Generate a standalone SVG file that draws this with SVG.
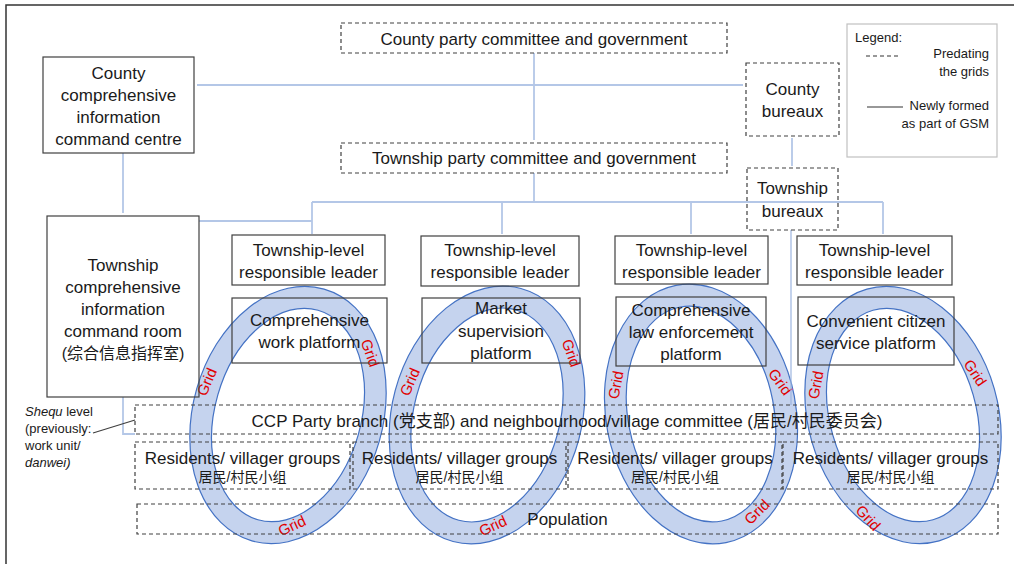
<svg xmlns="http://www.w3.org/2000/svg" width="1014" height="564" viewBox="0 0 1014 564">
<style>
.box{fill:none;stroke:#404040;stroke-width:1.2}
.dash{fill:none;stroke:#404040;stroke-width:1.2;stroke-dasharray:4 3}
.conn{fill:none;stroke:#b4c7e7;stroke-width:1.8}
.t{font-family:"Liberation Sans","Noto Sans CJK SC",sans-serif;font-size:17px;fill:#1a1a1a;text-anchor:middle}
.cjk{font-size:14px}
.lg{font-size:13px}
.st{text-anchor:start}
.en{text-anchor:end}
.grid{font-family:"Liberation Sans",sans-serif;font-size:15px;fill:#e00000;text-anchor:middle}
.ring{fill:#c5d3ee;stroke:#4472c4;stroke-width:1.2;fill-rule:evenodd}
</style>
<defs>
<path id="ringShape" d="M -95 0 A 95 131 0 1 0 95 0 A 95 131 0 1 0 -95 0 Z M -73 0 A 73 109 0 1 0 73 0 A 73 109 0 1 0 -73 0 Z"/>
</defs>
<rect x="0" y="0" width="1014" height="564" fill="#ffffff"/>
<path d="M6 564 V5 H1014" fill="none" stroke="#333" stroke-width="1.5"/>

<g id="grids">
<use href="#ringShape" class="ring" transform="translate(288 415) rotate(16)"/>
<use href="#ringShape" class="ring" transform="translate(487 415) rotate(15)"/>
<use href="#ringShape" class="ring" transform="translate(701 414) rotate(-11)"/>
<use href="#ringShape" class="ring" transform="translate(903 415) rotate(-16)"/>
<text class="grid" transform="translate(207 382) rotate(-67)" dy="5">Grid</text>
<text class="grid" transform="translate(370 353) rotate(70)" dy="5">Grid</text>
<text class="grid" transform="translate(292 526) rotate(-25)" dy="5">Grid</text>
<text class="grid" transform="translate(410 382) rotate(-67)" dy="5">Grid</text>
<text class="grid" transform="translate(571 353) rotate(70)" dy="5">Grid</text>
<text class="grid" transform="translate(493 526) rotate(-25)" dy="5">Grid</text>
<text class="grid" transform="translate(616 385) rotate(-79)" dy="5">Grid</text>
<text class="grid" transform="translate(780 382) rotate(54)" dy="5">Grid</text>
<text class="grid" transform="translate(757 512) rotate(-45)" dy="5">Grid</text>
<text class="grid" transform="translate(816 385) rotate(-79)" dy="5">Grid</text>
<text class="grid" transform="translate(975 373) rotate(56)" dy="5">Grid</text>
<text class="grid" transform="translate(868 518) rotate(47)" dy="5">Grid</text>
</g>

<g id="connectors">
<path class="conn" d="M197 85 H743"/>
<path class="conn" d="M534 53 V140"/>
<path class="conn" d="M792 138 V166"/>
<path class="conn" d="M534 173 V202"/>
<path class="conn" d="M312 202 H883"/>
<path class="conn" d="M312 202 V234"/>
<path class="conn" d="M502 202 V234"/>
<path class="conn" d="M691 202 V234"/>
<path class="conn" d="M883 202 V234"/>
<path class="conn" d="M123 153 V213"/>
<path class="conn" d="M199 221 H312"/>
<path class="conn" d="M123 397 V434 H135"/>
<path d="M791 230 V405" fill="none" stroke="#9db5e0" stroke-width="1.2"/>
<path d="M93 433 L135 420" fill="none" stroke="#404040" stroke-width="1.2"/>
</g>

<g id="county-party">
<rect class="dash" x="341" y="23" width="386" height="30"/>
<text class="t" x="534" y="45">County party committee and government</text>
</g>
<g id="county-command">
<rect class="box" x="43" y="57" width="151" height="96"/>
<text class="t" x="118.5" y="79">County</text>
<text class="t" x="118.5" y="101">comprehensive</text>
<text class="t" x="118.5" y="123">information</text>
<text class="t" x="118.5" y="145">command centre</text>
</g>
<g id="county-bureaux">
<rect class="dash" x="746" y="63" width="93" height="73"/>
<text class="t" x="792.5" y="95">County</text>
<text class="t" x="792.5" y="117">bureaux</text>
</g>
<g id="legend">
<rect x="847" y="24" width="150" height="133" fill="none" stroke="#c0c0c0" stroke-width="1.2"/>
<text class="t lg st" x="855" y="42">Legend:</text>
<path d="M866 56 H899" stroke="#333" stroke-width="1.2" stroke-dasharray="4 3"/>
<text class="t lg en" x="989" y="58">Predating</text>
<text class="t lg en" x="989" y="76">the grids</text>
<path d="M867 107 H903" stroke="#333" stroke-width="1.2"/>
<text class="t lg en" x="989" y="110">Newly formed</text>
<text class="t lg en" x="989" y="128">as part of GSM</text>
</g>
<g id="township-party">
<rect class="dash" x="341" y="143" width="386" height="30"/>
<text class="t" x="534" y="164">Township party committee and government</text>
</g>
<g id="township-bureaux">
<rect class="dash" x="747" y="168" width="91" height="62"/>
<text class="t" x="792.5" y="194">Township</text>
<text class="t" x="792.5" y="217">bureaux</text>
</g>
<g id="township-command">
<rect class="box" x="47" y="216" width="152" height="181"/>
<text class="t" x="123" y="271">Township</text>
<text class="t" x="123" y="293">comprehensive</text>
<text class="t" x="123" y="315">information</text>
<text class="t" x="123" y="337">command room</text>
<text class="t" x="123" y="359" style="font-size:16px">(综合信息指挥室)</text>
</g>
<g id="shequ-label">
<text class="t lg st" x="25" y="416"><tspan font-style="italic">Shequ</tspan> level</text>
<text class="t lg st" x="25" y="433">(previously:</text>
<text class="t lg st" x="25" y="450">work unit/</text>
<text class="t lg st" x="25" y="467" font-style="italic">danwei)</text>
</g>

<g id="leader-1">
<rect class="box" x="232" y="235" width="153" height="50"/>
<text class="t" x="308.5" y="256">Township-level</text>
<text class="t" x="308.5" y="278">responsible leader</text>
</g>
<g id="leader-2">
<rect class="box" x="421" y="236" width="158" height="50"/>
<text class="t" x="500" y="256">Township-level</text>
<text class="t" x="500" y="278">responsible leader</text>
</g>
<g id="leader-3">
<rect class="box" x="615" y="236" width="153" height="48"/>
<text class="t" x="691.5" y="256">Township-level</text>
<text class="t" x="691.5" y="278">responsible leader</text>
</g>
<g id="leader-4">
<rect class="box" x="797" y="236" width="155" height="49"/>
<text class="t" x="874.5" y="256">Township-level</text>
<text class="t" x="874.5" y="278">responsible leader</text>
</g>

<g id="platform-1">
<rect class="box" x="232" y="298" width="155" height="65"/>
<text class="t" x="309.5" y="326">Comprehensive</text>
<text class="t" x="309.5" y="348">work platform</text>
</g>
<g id="platform-2">
<rect class="box" x="422" y="298" width="158" height="65"/>
<text class="t" x="501" y="314">Market</text>
<text class="t" x="501" y="337">supervision</text>
<text class="t" x="501" y="359">platform</text>
</g>
<g id="platform-3">
<rect class="box" x="616" y="297" width="150" height="69"/>
<text class="t" x="691" y="316">Comprehensive</text>
<text class="t" x="691" y="338">law enforcement</text>
<text class="t" x="691" y="360">platform</text>
</g>
<g id="platform-4">
<rect class="box" x="798" y="297" width="156" height="68"/>
<text class="t" x="876" y="327">Convenient citizen</text>
<text class="t" x="876" y="349">service platform</text>
</g>

<g id="ccp-branch">
<rect class="dash" x="135" y="405" width="863" height="29"/>
<text class="t" x="567" y="427">CCP Party branch (党支部) and neighbourhood/village committee (居民/村民委员会)</text>
</g>
<g id="residents-1">
<rect class="dash" x="135" y="442" width="215" height="47"/>
<text class="t" x="242.5" y="464">Residents/ villager groups</text>
<text class="t cjk" x="242.5" y="482">居民/村民小组</text>
</g>
<g id="residents-2">
<rect class="dash" x="353" y="442" width="213" height="47"/>
<text class="t" x="459.5" y="464">Residents/ villager groups</text>
<text class="t cjk" x="459.5" y="482">居民/村民小组</text>
</g>
<g id="residents-3">
<rect class="dash" x="568" y="442" width="214" height="47"/>
<text class="t" x="675" y="464">Residents/ villager groups</text>
<text class="t cjk" x="675" y="482">居民/村民小组</text>
</g>
<g id="residents-4">
<rect class="dash" x="783" y="442" width="215" height="47"/>
<text class="t" x="890.5" y="464">Residents/ villager groups</text>
<text class="t cjk" x="890.5" y="482">居民/村民小组</text>
</g>
<g id="population">
<rect class="dash" x="137" y="504" width="861" height="30"/>
<text class="t" x="567.5" y="525">Population</text>
</g>
</svg>
